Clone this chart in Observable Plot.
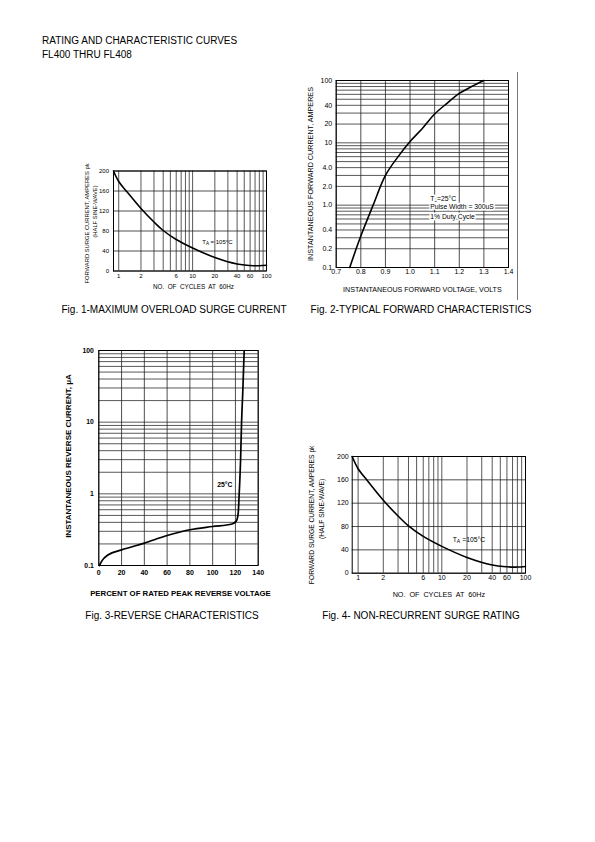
<!DOCTYPE html>
<html><head><meta charset="utf-8">
<script src="https://cdn.jsdelivr.net/npm/d3@7"></script>
<script src="https://cdn.jsdelivr.net/npm/@observablehq/plot@0.6"></script>
<style>
html,body{margin:0;padding:0;background:#fff;}
#page{position:relative;width:595px;height:842px;overflow:hidden;font-family:"Liberation Sans",Arial,sans-serif;color:#000;}
.t{position:absolute;white-space:nowrap;font-size:10px;line-height:10px;}
.cap{position:absolute;width:300px;text-align:center;white-space:nowrap;font-size:10px;line-height:10px;}
.scan{position:absolute;background:#777;width:1px;}
</style></head><body><div id="page">
<div class="t" style="left:42px;top:35.5px;">RATING AND CHARACTERISTIC CURVES</div>
<div class="t" style="left:42px;top:49.5px;">FL400 THRU FL408</div>
<div class="cap" style="left:24px;top:305px;">Fig. 1-MAXIMUM OVERLOAD SURGE CURRENT</div>
<div class="cap" style="left:271px;top:305px;">Fig. 2-TYPICAL FORWARD CHARACTERISTICS</div>
<div class="cap" style="left:22px;top:610.5px;">Fig. 3-REVERSE CHARACTERISTICS</div>
<div class="cap" style="left:271px;top:610.5px;">Fig. 4- NON-RECURRENT SURGE RATING</div>
<div class="scan" style="left:517px;top:72px;height:228px;"></div>
</div>
<script>
// ---------- data ----------
// Fig.1 and Fig.4: surge current vs number of cycles
const surgeCycles = [0.85, 1, 1.3, 2, 3, 4, 6, 10, 20, 40, 60, 80, 100];
const surgeAmps   = [200, 179, 158, 125, 98, 81, 63, 46, 27, 14, 11, 10.5, 11.5];
const surgeXTicks = [1, 2, 6, 10, 20, 40, 60, 100];
const surgeYTicks = [0, 40, 80, 120, 160, 200];
const surgeNote = "TA = 105°C";
const surgeNoteX = 13.5, surgeNoteY = 58;

// Fig.2: forward characteristics
const fwdVolts  = [0.755, 0.8, 0.85, 0.9, 0.95, 1.0, 1.05, 1.1, 1.15, 1.2, 1.25, 1.3];
const fwdAmps   = [0.1, 0.32, 1.0, 3.0, 5.9, 10.5, 17, 29, 43, 62, 80, 100];
const fwdXTicks = [0.7, 0.8, 0.9, 1.0, 1.1, 1.2, 1.3, 1.4];
const fwdYTicks = [0.1, 0.2, 0.4, 1, 2, 4, 10, 20, 40, 100];
const fwdYLabels = ["0.1", "0.2", "0.4", "1.0", "2.0", "4.0", "10", "20", "40", "100"];
const fwdNotes  = ["TJ=25°C", "Pulse Width = 300uS", "1% Duty Cycle"];
const fwdNoteY  = [1.28, 0.935, 0.66];
const fwdNoteX  = 1.082;

// Fig.3: reverse characteristics
const revPercent = [0.5, 3, 8, 20, 40, 60, 80, 100, 117, 120.7, 122.4, 123.3, 124.5, 125.4, 126.5, 127.7];
const revMicroA  = [0.1, 0.118, 0.14, 0.165, 0.205, 0.262, 0.315, 0.35, 0.38, 0.416, 0.53, 1.0, 2.9, 10, 27.6, 100];
const revXTicks  = [0, 20, 40, 60, 80, 100, 120, 140];
const revYTicks  = [0.1, 1, 10, 100];
const revNote = "25°C";
const revNoteX = 104, revNoteY = 1.35;

// ---------- helpers ----------
const FONT = "Liberation Sans, Arial, sans-serif";
const page = document.getElementById("page");
const logGrid = d3.range(-1, 2).flatMap(k => d3.range(1, 10).map(m => +(m * Math.pow(10, k)).toPrecision(3))).concat([100]);
const surgeGrid = d3.range(0, 2).flatMap(k => d3.range(1, 10).map(m => m * Math.pow(10, k))).concat([100]);
const surgeData = surgeCycles.map((c, i) => ({c, a: surgeAmps[i]}));
const fwdData = fwdVolts.map((v, i) => ({v, a: fwdAmps[i]}));
const revData = revPercent.map((p, i) => ({p, a: revMicroA[i]}));
const fwdLabelMap = new Map(fwdYTicks.map((t, i) => [t, fwdYLabels[i]]));

function place(svg, left, top) {
  svg.style.position = "absolute";
  svg.style.left = left + "px";
  svg.style.top = top + "px";
  page.appendChild(svg);
}
function subscripts(svg, shift) {
  const ns = "http://www.w3.org/2000/svg";
  svg.querySelectorAll("text").forEach(t => {
    if (t.children.length) return;
    const m = t.textContent.match(/^T([AJ])(.*)$/);
    if (!m) return;
    t.textContent = "";
    const a = document.createElementNS(ns, "tspan"); a.textContent = "T";
    const b = document.createElementNS(ns, "tspan"); b.textContent = m[1];
    b.setAttribute("dy", shift); b.setAttribute("font-size", "75%");
    const c = document.createElementNS(ns, "tspan"); c.textContent = m[2];
    c.setAttribute("dy", -shift);
    t.append(a, b, c);
  });
}
// tick labels drawn through the scales
function xTickText(ticks, pad, fs, fmt, extra = {}) {
  return Plot.text(ticks, {x: d => d, frameAnchor: "bottom", lineAnchor: "top", textAnchor: "middle", dy: pad, fontSize: fs, text: fmt, fill: "#000", ...extra});
}
function yTickText(ticks, pad, fs, fmt, extra = {}) {
  return Plot.text(ticks, {y: d => d, frameAnchor: "left", lineAnchor: "middle", textAnchor: "end", dx: -pad, fontSize: fs, text: fmt, fill: "#000", ...extra});
}
const baseStyle = {fontFamily: FONT, background: "transparent", color: "#000", overflow: "visible"};

function surgeChart(o) {
  return Plot.plot({
    width: o.w, height: o.h, marginLeft: o.ml, marginRight: o.mr, marginTop: o.mt, marginBottom: o.mb,
    style: {...baseStyle, fontSize: o.tick + "px"},
    x: {type: "log", domain: [0.85, 100], axis: null},
    y: {domain: [0, 200], axis: null},
    marks: [
      Plot.ruleX(surgeGrid, {stroke: "#222", strokeWidth: 0.75}),
      Plot.ruleY(surgeYTicks, {stroke: "#222", strokeWidth: 0.8}),
      Plot.frame({stroke: "#000", strokeWidth: 1}),
      Plot.line(surgeData, {x: "c", y: "a", curve: "catmull-rom", stroke: "#000", strokeWidth: 1.6}),
      xTickText(surgeXTicks, o.xpad, o.tick, d => String(d)),
      yTickText(surgeYTicks, o.ypad, o.tick, d => String(d)),
      Plot.text(["FORWARD SURGE CURRENT, AMPERES pk"], {text: d => d, frameAnchor: "left", rotate: -90, textAnchor: "middle", lineAnchor: "middle", dx: o.l1dx, dy: o.l1dy, fontSize: o.lab}),
      Plot.text(["(HALF SINE-WAVE)"], {text: d => d, frameAnchor: "left", rotate: -90, textAnchor: "middle", lineAnchor: "middle", dx: o.l2dx, dy: o.l2dy, fontSize: o.lab}),
      Plot.text(["NO.  OF  CYCLES  AT  60Hz"], {text: d => d, frameAnchor: "bottom", textAnchor: "middle", lineAnchor: "middle", dx: o.xldx, dy: o.xldy, fontSize: o.xlab}),
      Plot.text([{x: surgeNoteX, y: surgeNoteY, t: o.note}], {x: "x", y: "y", text: "t", textAnchor: "start", fontSize: o.notefs})
    ]
  });
}

// Fig.1
const c1 = surgeChart({w: 200, h: 150, ml: 38, mr: 9, mt: 20.5, mb: 29.5, tick: 6, xpad: 3, ypad: 4.5,
  lab: 5.8, l1dx: -26.3, l1dy: 2.5, l2dx: -18, l2dy: -9.5, xlab: 6.3, xldx: 3.5, xldy: 16, note: surgeNote, notefs: 6});
subscripts(c1, 1.5);
place(c1, 75, 150);

// Fig.4
const c4 = surgeChart({w: 235, h: 170, ml: 51.7, mr: 10, mt: 16, mb: 37.3, tick: 7, xpad: 2.2, ypad: 3.5,
  lab: 6.7, l1dx: -40, l1dy: 0, l2dx: -30, l2dy: -6, xlab: 7.2, xldx: 0, xldy: 21.3, note: "TA =105°C", notefs: 6.8});
subscripts(c4, 1.8);
place(c4, 300, 440);

// Fig.2
const c2 = Plot.plot({
  width: 230, height: 235, marginLeft: 40.7, marginRight: 17, marginTop: 10, marginBottom: 38,
  style: {...baseStyle, fontSize: "7px"},
  x: {domain: [0.7, 1.4], axis: null},
  y: {type: "log", domain: [0.1, 100], axis: null},
  marks: [
    Plot.ruleY(logGrid, {stroke: "#222", strokeWidth: 0.75}),
    Plot.ruleX(fwdXTicks, {stroke: "#222", strokeWidth: 0.8}),
    Plot.frame({stroke: "#000", strokeWidth: 1}),
    Plot.line(fwdData, {x: "v", y: "a", curve: "catmull-rom", stroke: "#000", strokeWidth: 1.6}),
    xTickText(fwdXTicks, 1.5, 7, d3.format(".1f")),
    yTickText(fwdYTicks, 4, 7, d => fwdLabelMap.get(d)),
    Plot.text(["INSTANTANEOUS FORWARD CURRENT, AMPERES"], {text: d => d, frameAnchor: "left", rotate: -90, textAnchor: "middle", lineAnchor: "middle", dx: -25.7, fontSize: 7.2}),
    Plot.text(["INSTANTANEOUS FORWARD VOLTAGE, VOLTS"], {text: d => d, frameAnchor: "bottom", textAnchor: "middle", lineAnchor: "middle", dy: 22, fontSize: 7.1}),
    Plot.text(fwdNotes.map((t, i) => ({t, y: fwdNoteY[i]})), {x: () => fwdNoteX, y: "y", text: "t", textAnchor: "start", fontSize: 6.8, fill: "#000", stroke: "white", strokeWidth: 3})
  ]
});
subscripts(c2, 1.6);
place(c2, 295, 70);

// Fig.3
const c3 = Plot.plot({
  width: 230, height: 270, marginLeft: 48.3, marginRight: 22.3, marginTop: 15, marginBottom: 40,
  style: {...baseStyle, fontSize: "7px"},
  x: {domain: [0, 140], axis: null},
  y: {type: "log", domain: [0.1, 100], axis: null},
  marks: [
    Plot.ruleY(logGrid, {stroke: "#222", strokeWidth: 0.75}),
    Plot.ruleX(revXTicks, {stroke: "#222", strokeWidth: 0.8}),
    Plot.frame({stroke: "#000", strokeWidth: 1}),
    Plot.line(revData, {x: "p", y: "a", curve: "monotone-x", stroke: "#000", strokeWidth: 1.7}),
    xTickText(revXTicks, 4.5, 7, d => String(d), {fontWeight: "bold"}),
    yTickText(revYTicks, 5, 6.8, d => String(d), {fontWeight: "bold"}),
    Plot.text(["INSTANTANEOUS REVERSE CURRENT, μA"], {text: d => d, frameAnchor: "left", rotate: -90, textAnchor: "middle", lineAnchor: "middle", dx: -30.3, dy: -2, fontSize: 8, fontWeight: "bold"}),
    Plot.text(["PERCENT OF RATED PEAK REVERSE VOLTAGE"], {text: d => d, frameAnchor: "bottom", textAnchor: "middle", lineAnchor: "middle", dx: 2, dy: 28, fontSize: 7.8, fontWeight: "bold"}),
    Plot.text([{x: revNoteX, y: revNoteY, t: revNote}], {x: "x", y: "y", text: "t", textAnchor: "start", fontSize: 6.8, fontWeight: "bold"})
  ]
});
place(c3, 50, 335);
</script>
</body></html>
